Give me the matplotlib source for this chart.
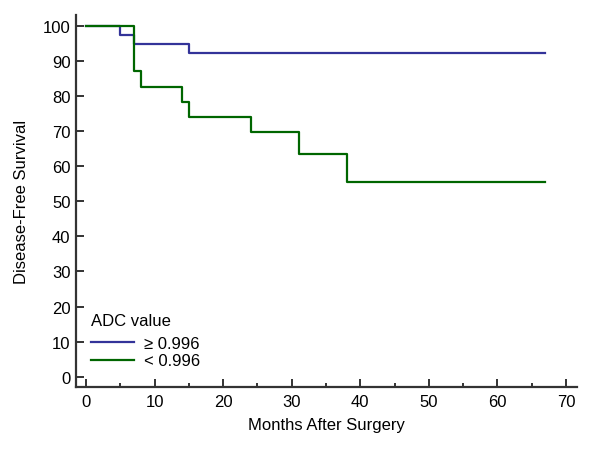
import matplotlib
matplotlib.use('Agg')
import matplotlib.pyplot as plt
from matplotlib.ticker import MultipleLocator

# Kaplan-Meier steps
high_t = [0, 5, 7, 15, 67]
high_s = [100, 97.4, 94.8, 92.3, 92.3]
low_t = [0, 7, 8, 14, 15, 24, 31, 38, 67]
low_s = [100, 87.0, 82.6, 78.3, 73.9, 69.6, 63.4, 55.5, 55.5]

group_labels = ['\u2265 0.996', '< 0.996']
x_ticks = [0, 10, 20, 30, 40, 50, 60, 70]
y_ticks = [0, 10, 20, 30, 40, 50, 60, 70, 80, 90, 100]

plt.rcParams['font.family'] = ['Liberation Sans', 'DejaVu Sans']

fig = plt.figure(figsize=(6.02, 4.52), dpi=100)
ax = fig.add_axes([76 / 602, 64 / 452, 501 / 602, 372 / 452])

ax.step(high_t, high_s, where='post', color='#333399', lw=1.6, label=group_labels[0])
ax.step(low_t, low_s, where='post', color='#006600', lw=1.6, label=group_labels[1])

ax.set_xlim(-1.45, 71.6)
ax.set_ylim(-2.9, 103)
ax.set_xticks(x_ticks)
ax.set_yticks(y_ticks)
ax.xaxis.set_minor_locator(MultipleLocator(5))

for side in ['top', 'right']:
    ax.spines[side].set_visible(False)
for side in ['left', 'bottom']:
    ax.spines[side].set_color('#333333')
    ax.spines[side].set_linewidth(1.6)

ax.tick_params(which='both', direction='in', color='#333333', width=1.4, labelsize=12)
ax.tick_params(axis='x', which='major', length=6, pad=5)
ax.tick_params(axis='x', which='minor', length=3)
ax.tick_params(axis='y', which='major', length=6, pad=4)

ax.set_xlabel('Months After Surgery', fontsize=12, labelpad=6)
ax.set_ylabel('Disease-Free Survival', fontsize=12, labelpad=10)

leg = ax.legend(title='ADC value', loc='lower left', bbox_to_anchor=(0.03, 0.05),
                frameon=False, fontsize=12, title_fontsize=12, handlelength=2.6,
                borderpad=0, borderaxespad=0, labelspacing=0.15, handletextpad=0.6)
leg._legend_box.align = 'left'
leg._legend_box.sep = 6  # a bit more room under the title

fig.savefig('out.png', dpi=100)
